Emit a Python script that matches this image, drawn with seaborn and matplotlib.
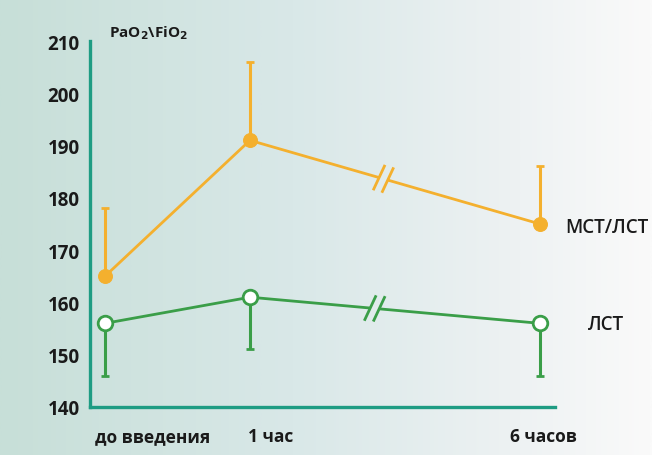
import numpy as np
import pandas as pd
import matplotlib
matplotlib.use("Agg")
import matplotlib.pyplot as plt
from matplotlib.colors import LinearSegmentedColormap
import seaborn as sns

# ---- data -------------------------------------------------------------
time_labels = ["до введения", "1 час", "6 часов"]
time_pos = [0, 1, 3]          # 6 h is drawn on a broken (compressed) axis
mct_mean = [165, 191, 175]    # МСТ/ЛСТ
mct_sd = [13, 15, 11]
lct_mean = [156, 161, 156]    # ЛСТ
lct_sd = [10, 10, 10]
y_ticks = [140, 150, 160, 170, 180, 190, 200, 210]
series_names = ["МСТ/ЛСТ", "ЛСТ"]

ORANGE = "#f4b02e"
GREEN = "#3a9e48"
AXIS = "#1e9c83"
TEXT = "#1a1a1a"

sns.set_theme(style="white")
plt.rcParams["font.family"] = ["Open Sans", "DejaVu Sans"]

W, H = 652, 456
fig = plt.figure(figsize=(W / 100, H / 100), dpi=100)

# soft horizontal background gradient
bg_cmap = LinearSegmentedColormap.from_list(
    "bg", [(0, "#c7dfd8"), (0.45, "#d9e8e8"), (0.8, "#eef2f3"), (1, "#fafafa")])
bg = fig.add_axes([0, 0, 1, 1], zorder=-10)
bg.imshow(np.linspace(0, 1, 512).reshape(1, -1), aspect="auto", cmap=bg_cmap,
          extent=[0, 1, 0, 1])
bg.axis("off")

ax = fig.add_axes([90 / W, (H - 408) / H, (555 - 90) / W, (408 - 42) / H])
ax.set_facecolor("none")

df = pd.DataFrame({
    "pos": time_pos * 2,
    "value": mct_mean + lct_mean,
    "series": [series_names[0]] * 3 + [series_names[1]] * 3,
})

# error bars (one-sided)
zeros = [0, 0, 0]
ax.errorbar(time_pos, mct_mean, yerr=[zeros, mct_sd], fmt="none", ecolor=ORANGE,
            elinewidth=2.2, capsize=3, capthick=2, zorder=2)
ax.errorbar(time_pos, lct_mean, yerr=[lct_sd, zeros], fmt="none", ecolor=GREEN,
            elinewidth=2.2, capsize=3, capthick=2, zorder=2)

sns.lineplot(data=df[df.series == series_names[0]], x="pos", y="value", ax=ax,
             color=ORANGE, linewidth=2, marker="o", markersize=10,
             markerfacecolor=ORANGE, markeredgecolor=ORANGE, zorder=3, legend=False)
sns.lineplot(data=df[df.series == series_names[1]], x="pos", y="value", ax=ax,
             color=GREEN, linewidth=2, marker="o", markersize=10.5,
             markerfacecolor="white", markeredgecolor=GREEN, markeredgewidth=2,
             zorder=3, legend=False)

ax.set_xlim(-0.103, 3.103)
ax.set_ylim(140, 210)
ax.set_xlabel("")
ax.set_ylabel("")

for s in ["top", "right"]:
    ax.spines[s].set_visible(False)
for s in ["left", "bottom"]:
    ax.spines[s].set_color(AXIS)
    ax.spines[s].set_linewidth(2.4)

ax.set_yticks(y_ticks)
ax.set_yticklabels([str(v) for v in y_ticks], fontsize=13.5, fontweight="bold", color=TEXT)
ax.tick_params(axis="y", direction="out", length=3.5, width=2, color="#4d6f68", pad=4)
ax.set_xticks([time_pos[1], time_pos[2]])
ax.set_xticklabels([])
ax.tick_params(axis="x", direction="in", length=8, width=2, color=AXIS)

# category labels under the axis
label_offsets = [-0.07, -0.015, -0.21]
for p, lab, off in zip(time_pos, time_labels, label_offsets):
    ax.text(p + off, -0.08, lab, transform=ax.get_xaxis_transform(),
            ha="left", va="center", fontsize=12.5, fontweight="bold", color=TEXT)

ax.text(0.04, 1.025, "PaO$_\\mathbf{2}$\\FiO$_\\mathbf{2}$", transform=ax.transAxes,
        ha="left", va="center", fontsize=11, fontweight="bold", color=TEXT)

# series names at the right
fig.text(565 / W, 1 - 228 / H, series_names[0], ha="left", va="center",
         fontsize=13.5, fontweight="semibold", color=TEXT)
fig.text(588 / W, 1 - 325 / H, series_names[1], ha="left", va="center",
         fontsize=13.5, fontweight="semibold", color=TEXT)


def draw_break(x0, y0, x1, y1, t, color):
    """Mark an axis break '//' on the segment (x0, y0)-(x1, y1)."""
    fig.canvas.draw()
    p0 = ax.transData.transform((x0, y0))
    p1 = ax.transData.transform((x1, y1))
    p = p0 + t * (p1 - p0)
    d = (p1 - p0) / np.linalg.norm(p1 - p0)
    gap_bg = bg_cmap(p[0] / W)
    inv = ax.transData.inverted()
    g = np.array([p - 4.5 * d, p + 4.5 * d])
    gd = inv.transform(g)
    ax.plot(gd[:, 0], gd[:, 1], color=gap_bg, linewidth=4, zorder=3.5,
            solid_capstyle="butt")
    ang = np.deg2rad(65)
    s = np.array([np.cos(ang), np.sin(ang)])
    for k in (-4.5, 4.5):
        c = p + k * d
        seg = inv.transform(np.array([c - 14 * s, c + 14 * s]))
        ax.plot(seg[:, 0], seg[:, 1], color=color, linewidth=2, zorder=3.6,
                solid_capstyle="butt")


draw_break(time_pos[1], mct_mean[1], time_pos[2], mct_mean[2], 0.46, ORANGE)
draw_break(time_pos[1], lct_mean[1], time_pos[2], lct_mean[2], 0.43, GREEN)

fig.savefig("out.png", dpi=100)
